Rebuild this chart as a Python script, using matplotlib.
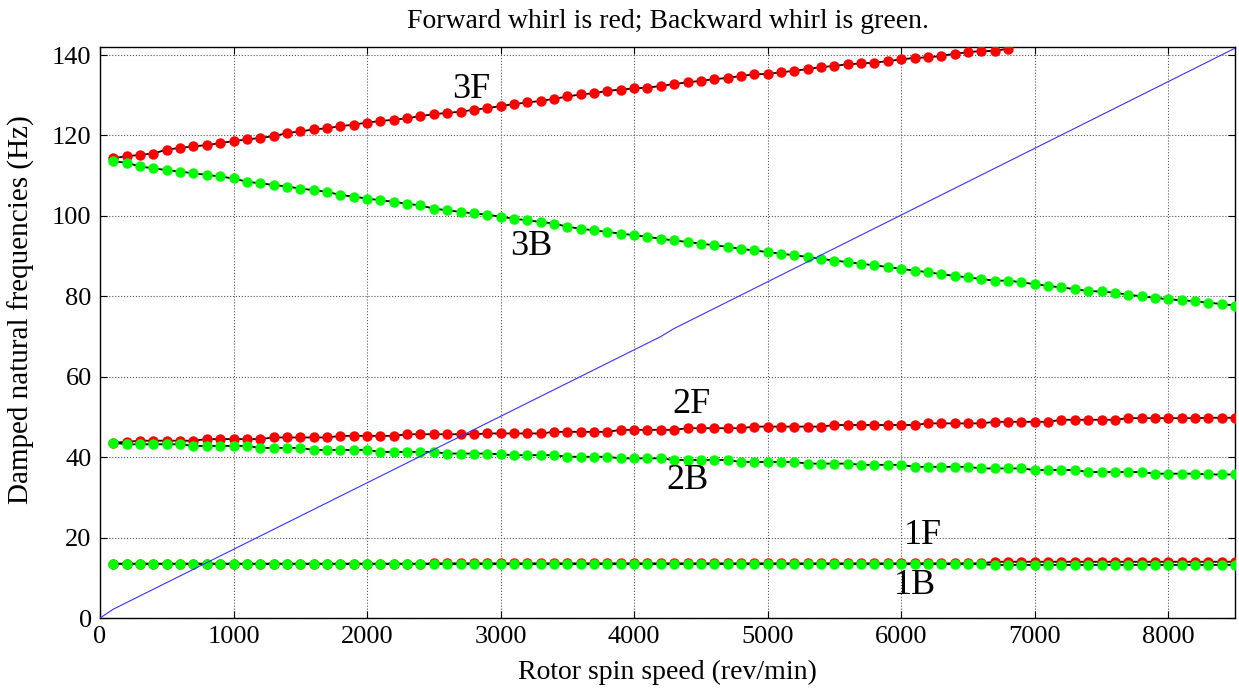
import numpy as np
import matplotlib
matplotlib.use('Agg')
import matplotlib.pyplot as plt

# 转速 (rev/min)，每 100 取一个点
speed = np.arange(100, 8600, 100)
speed_3f = np.arange(100, 6900, 100)

# 3F 正进动 (Hz)
freq_3f = [114.4, 114.8, 115.2, 115.5, 116.5, 116.9, 117.3, 117.6, 118.1, 118.6,
           119.0, 119.4, 119.8, 120.6, 121.0, 121.5, 121.8, 122.3, 122.7, 123.2,
           123.6, 123.9, 124.3, 124.8, 125.3, 125.6, 125.9, 126.4, 126.8, 127.3,
           127.8, 128.2, 128.6, 129.1, 129.7, 130.2, 130.5, 131.1, 131.4, 131.7,
           131.9, 132.3, 132.8, 133.2, 133.6, 134.0, 134.3, 134.8, 135.2, 135.3,
           135.7, 136.1, 136.5, 137.0, 137.3, 137.7, 137.9, 138.1, 138.5, 138.9,
           139.3, 139.4, 139.8, 140.3, 140.7, 141.0, 141.0, 141.6]
# 3B 反进动
freq_3b = [113.6, 113.2, 112.3, 111.8, 111.4, 111.0, 110.6, 110.2, 109.8, 109.3,
           108.5, 108.1, 107.7, 107.3, 106.8, 106.4, 106.0, 105.2, 104.8, 104.3,
           103.9, 103.5, 103.0, 102.6, 101.8, 101.4, 101.0, 100.6, 100.3, 99.8,
           99.3, 98.9, 98.5, 98.1, 97.3, 96.8, 96.4, 96.0, 95.6, 95.2,
           94.8, 94.3, 93.9, 93.5, 93.1, 92.7, 92.3, 91.8, 91.4, 91.0,
           90.6, 90.2, 89.8, 89.3, 88.9, 88.5, 88.1, 87.7, 87.3, 86.8,
           86.4, 86.0, 85.5, 85.1, 84.7, 84.3, 83.9, 83.9, 83.5, 83.0,
           82.6, 82.2, 81.8, 81.3, 81.2, 80.9, 80.4, 80.0, 79.6, 79.3,
           79.0, 78.8, 78.4, 78.1, 77.7]
freq_2f = [43.6, 43.8, 44.1, 44.1, 44.1, 44.1, 44.1, 44.5, 44.5, 44.5,
           44.5, 44.5, 44.9, 44.9, 44.9, 44.9, 44.9, 45.3, 45.3, 45.3,
           45.3, 45.3, 45.7, 45.7, 45.7, 45.7, 45.7, 45.7, 45.9, 45.9,
           45.9, 45.9, 45.9, 46.3, 46.3, 46.3, 46.3, 46.3, 46.8, 46.8,
           46.8, 46.8, 46.8, 47.2, 47.2, 47.2, 47.2, 47.2, 47.6, 47.6,
           47.6, 47.6, 47.6, 47.6, 48.0, 48.0, 48.0, 48.0, 48.0, 48.0,
           48.0, 48.4, 48.4, 48.4, 48.4, 48.4, 48.8, 48.8, 48.8, 48.8,
           48.8, 49.3, 49.3, 49.3, 49.3, 49.3, 49.7, 49.7, 49.7, 49.7,
           49.7, 49.7, 49.8, 49.8, 49.8]
freq_2b = [43.6, 43.2, 43.2, 43.2, 43.2, 43.2, 42.8, 42.8, 42.8, 42.8,
           42.8, 42.3, 42.3, 42.3, 42.3, 41.8, 41.8, 41.8, 41.8, 41.8,
           41.3, 41.3, 41.3, 41.3, 41.3, 40.9, 40.9, 40.9, 40.9, 40.7,
           40.5, 40.5, 40.5, 40.5, 40.1, 40.1, 40.1, 40.1, 39.7, 39.7,
           39.7, 39.7, 39.3, 39.3, 39.3, 39.3, 39.3, 38.8, 38.8, 38.8,
           38.8, 38.8, 38.4, 38.4, 38.4, 38.4, 38.1, 38.1, 38.1, 38.1,
           37.6, 37.6, 37.6, 37.6, 37.6, 37.2, 37.2, 37.2, 37.2, 36.8,
           36.8, 36.8, 36.8, 36.3, 36.3, 36.3, 36.3, 36.3, 35.9, 35.9,
           35.9, 35.9, 35.7, 35.7, 35.7]
freq_1f = [13.5] * 24 + [13.6] * 42 + [14.0] * 19
freq_1b = [13.5] * 24 + [13.4] * 42 + [13.2] * 19

# 1x 激励线
speed_1x = [0, 100, 4200, 4300, 8500]
freq_1x = [0.0, 2.2, 70.0, 72.0, 141.7]

plt.rcParams['font.family'] = ['Liberation Serif', 'DejaVu Serif']

fig = plt.figure(figsize=(12.39, 6.88), dpi=100)
ax = fig.add_axes([0.0807, 0.1017, 0.9161, 0.83])

red_curves = [(speed_3f, freq_3f), (speed, freq_2f), (speed, freq_1f)]
green_curves = [(speed, freq_3b), (speed, freq_2b), (speed, freq_1b)]

for sx, fy in red_curves:
    ax.plot(sx, fy, '-', color='k', lw=1.3, zorder=3)
    ax.plot(sx, fy, 'o', color='#ff0000', ms=7.5, mec='none', zorder=4)
for sx, fy in green_curves:
    ax.plot(sx, fy, '-', color='k', lw=1.3, zorder=5)
    ax.plot(sx, fy, 'o', color='#00ff00', ms=7.5, mec='none', zorder=6)

ax.plot(speed_1x, freq_1x, color='#3333ff', lw=0.8, zorder=7)

# 模态标签
labels = ['3F', '3B', '2F', '2B', '1F', '1B']
label_xy = [(2780, 131.5), (3230, 92.5), (4430, 53.0), (4400, 34.3), (6160, 20.6), (6100, 8.2)]
for t, (lx, ly) in zip(labels, label_xy):
    ax.text(lx, ly, t, fontsize=26, ha='center', va='center', zorder=8)

ax.set_xlim(0, 8500)
ax.set_ylim(0, 142)
ax.set_xticks(np.arange(0, 9000, 1000))
ax.set_yticks(np.arange(0, 160, 20))
ax.grid(True, linestyle=':', color='#555555', lw=0.8)
ax.tick_params(direction='in', top=True, right=True, length=5, labelsize=19, pad=6)
for sp in ax.spines.values():
    sp.set_linewidth(1.0)

ax.set_xlabel('Rotor spin speed (rev/min)', fontsize=20, labelpad=8)
ax.set_ylabel('Damped natural frequencies (Hz)', fontsize=21)
ax.yaxis.set_label_coords(-0.057, 0.54)
ax.set_title('Forward whirl is red; Backward whirl is green.', fontsize=20, pad=14)

fig.savefig('out.png', dpi=100)
